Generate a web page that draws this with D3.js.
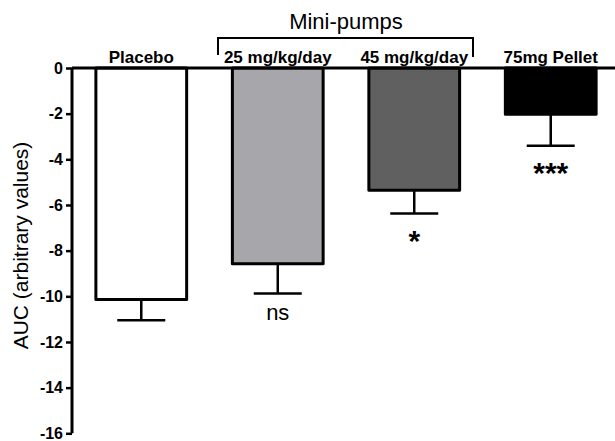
<!DOCTYPE html>
<html>
<head>
<meta charset="utf-8">
<script src="https://cdn.jsdelivr.net/npm/d3@7"></script>
<style>
  html, body { margin: 0; padding: 0; background: #fff; }
  svg { display: block; font-family: "Liberation Sans", Arial, sans-serif; }
</style>
</head>
<body>
<svg id="chart" width="615" height="441"></svg>
<script>
// Groups, mean AUC, SEM, fill colours and significance marks
const groups = ["Placebo", "25 mg/kg/day", "45 mg/kg/day", "75mg Pellet"];
const means = [-10.14, -8.57, -5.35, -2.03];
const sems = [0.91, 1.31, 1.02, 1.38];
const fills = ["#ffffff", "#a7a6aa", "#606060", "#000000"];
const marks = ["", "ns", "*", "***"];
const yTicks = [0, -2, -4, -6, -8, -10, -12, -14, -16];
const bracketGroups = ["25 mg/kg/day", "45 mg/kg/day"];
const bracketLabel = "Mini-pumps";
const yTitle = "AUC (arbitrary values)";

const svg = d3.select("#chart");
const axisX = 72;

const y = d3.scaleLinear().domain([0, -16]).range([68, 433.3]);
const x = d3.scaleBand().domain(groups).range([axisX, 620])
  .paddingInner(0.335).paddingOuter(0.175);

// Bars hang down from zero
svg.selectAll("rect.bar").data(groups).join("rect")
  .attr("class", "bar")
  .attr("x", d => x(d))
  .attr("y", y(0))
  .attr("width", x.bandwidth())
  .attr("height", (d, i) => y(means[i]) - y(0))
  .attr("fill", (d, i) => fills[i])
  .attr("stroke", "#000")
  .attr("stroke-width", 3)
  .attr("stroke-linejoin", "round");

// Error bars (downward only)
const capW = 48;
groups.forEach((g, i) => {
  const cx = x(g) + x.bandwidth() / 2;
  const y0 = y(means[i]), y1 = y(means[i] - sems[i]);
  svg.append("line").attr("x1", cx).attr("x2", cx).attr("y1", y0).attr("y2", y1)
    .attr("stroke", "#000").attr("stroke-width", 2.5);
  svg.append("line").attr("x1", cx - capW / 2).attr("x2", cx + capW / 2)
    .attr("y1", y1).attr("y2", y1)
    .attr("stroke", "#000").attr("stroke-width", 2.5);
});

// Significance marks below the error bars
groups.forEach((g, i) => {
  if (!marks[i]) return;
  const cx = x(g) + x.bandwidth() / 2;
  const y1 = y(means[i] - sems[i]);
  const star = marks[i].startsWith("*");
  svg.append("text")
    .attr("x", cx)
    .attr("y", y1 + (star ? 37.5 : 26))
    .attr("text-anchor", "middle")
    .style("font-size", (star ? 30 : 22) + "px")
    .style("font-weight", star ? "bold" : "normal")
    .attr("fill", "#000")
    .text(marks[i]);
});

// Y axis
const yAxis = d3.axisLeft(y).tickValues(yTicks).tickSize(6).tickPadding(3)
  .tickFormat(d => String(d));
const ga = svg.append("g").attr("transform", `translate(${axisX},0)`).call(yAxis);
ga.select(".domain").attr("stroke-width", 3).attr("d", `M0,${y(0)}V${y(-16)}`);
ga.selectAll(".tick line").attr("stroke-width", 2.5);
ga.selectAll(".tick text")
  .style("font-size", "16px").style("font-weight", "bold")
  .style("font-family", "'Liberation Sans', Arial, sans-serif").attr("fill", "#000");

// Zero line across the top of the plot
svg.append("line").attr("x1", axisX).attr("x2", 615).attr("y1", y(0)).attr("y2", y(0))
  .attr("stroke", "#000").attr("stroke-width", 3);

// Group labels above the bars
svg.selectAll("text.glabel").data(groups).join("text")
  .attr("class", "glabel")
  .attr("x", d => x(d) + x.bandwidth() / 2)
  .attr("y", 62.5)
  .attr("text-anchor", "middle")
  .style("font-size", "17px")
  .style("font-weight", "bold")
  .text(d => d);

// Bracket spanning the mini-pump groups
const bx0 = 218, bx1 = 473;
svg.append("path")
  .attr("d", `M${bx0},55V38H${bx1}V57`)
  .attr("fill", "none").attr("stroke", "#000").attr("stroke-width", 2);
svg.append("text")
  .attr("x", (x(bracketGroups[0]) + x(bracketGroups[1]) + x.bandwidth()) / 2)
  .attr("y", 28.5)
  .attr("text-anchor", "middle")
  .style("font-size", "22px")
  .text(bracketLabel);

// Y axis title
svg.append("text")
  .attr("transform", `translate(28,245.5) rotate(-90)`)
  .attr("text-anchor", "middle")
  .style("font-size", "21px")
  .text(yTitle);
</script>
</body>
</html>
